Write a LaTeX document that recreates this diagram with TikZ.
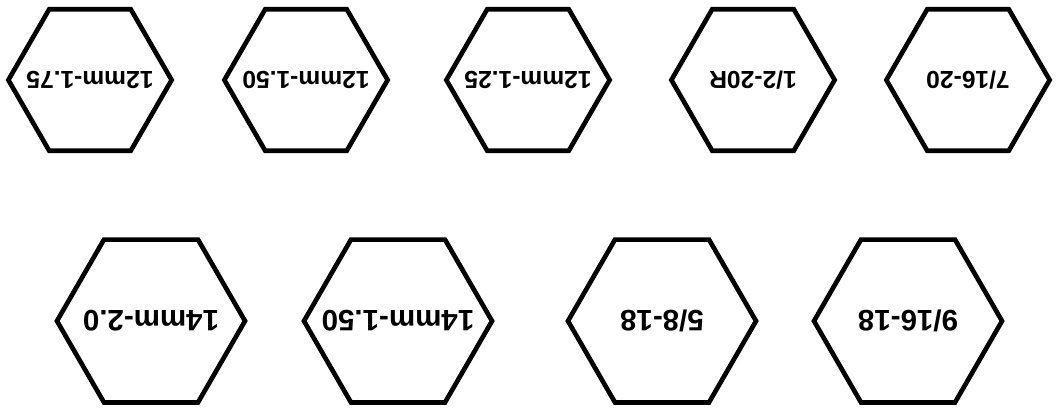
\documentclass[tikz,border=0pt]{standalone}
\usepackage{fontspec}
\setmainfont{Liberation Sans}
\usetikzlibrary{shapes.geometric}
\newcommand\nutlabel[1]{\makebox[0pt]{#1}}

\begin{document}
\begin{tikzpicture}[x=0.025cm, y=-0.025cm,
  nut/.style={regular polygon, regular polygon sides=6, draw, line width=3.3pt,
    inner sep=0pt, rotate=180, font=\bfseries\fontsize{17.5}{18}\selectfont},
  small/.style={nut, minimum size=4.08cm},
  big/.style={nut, minimum size=4.7cm, font=\bfseries\fontsize{21}{21}\selectfont}]
  \useasboundingbox (0,0) rectangle (1063,408);
  % top row
  \node (m175) [small] at (90,80) {\nutlabel{12mm-1.75}};
  \node (m150) [small] at (306,80) {\nutlabel{12mm-1.50}};
  \node (m125) [small] at (528,80) {\nutlabel{12mm-1.25}};
  \node (i12) [small] at (753,80) {\nutlabel{1/2-20R}};
  \node (i716) [small] at (968,80) {\nutlabel{7/16-20}};
  % bottom row
  \node (m14a) [big] at (151,321) {\nutlabel{14mm-2.0}};
  \node (m14b) [big] at (398,321) {\nutlabel{14mm-1.50}};
  \node (i58) [big] at (662,321) {\nutlabel{5/8-18}};
  \node (i916) [big] at (908,321) {\nutlabel{9/16-18}};
\end{tikzpicture}
\end{document}
